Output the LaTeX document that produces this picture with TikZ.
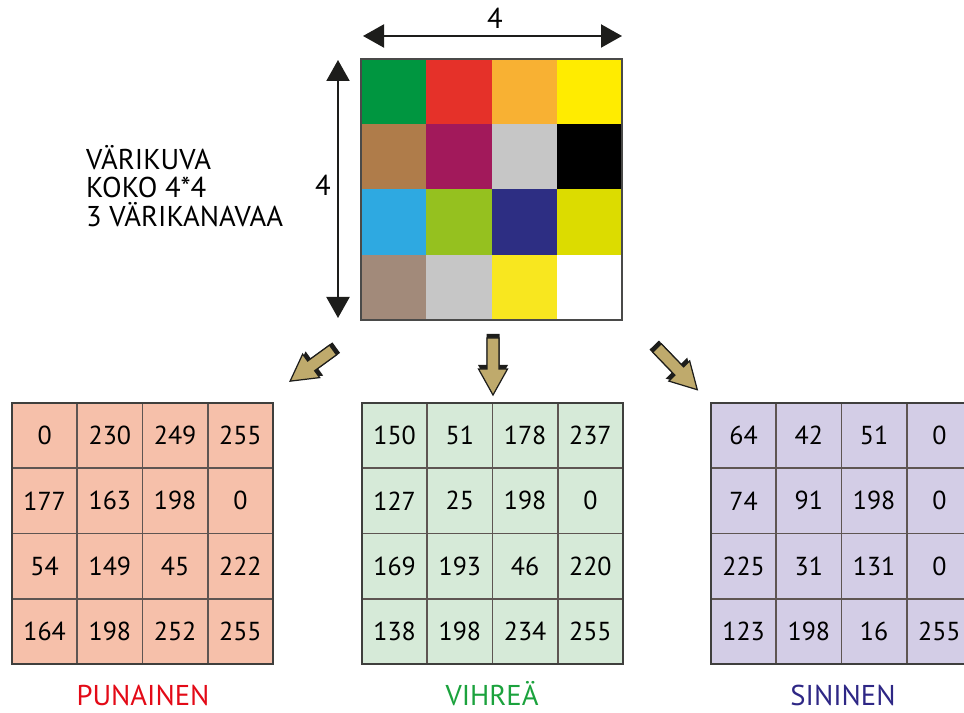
\documentclass[tikz,border=0pt]{standalone}
\usepackage{fontspec}
\setmainfont{PT Sans}
\usetikzlibrary{arrows.meta,positioning}
\definecolor{ink}{HTML}{1D1D1B}
\definecolor{gridline}{HTML}{5E5552}
\definecolor{khaki}{HTML}{BFAA6C}
\definecolor{redlabel}{HTML}{E30A17}
\definecolor{greenlabel}{HTML}{1BA23D}
\definecolor{bluelabel}{HTML}{2E2785}
\definecolor{redfill}{HTML}{F6C0AA}
\definecolor{greenfill}{HTML}{D6EAD8}
\definecolor{bluefill}{HTML}{D3CDE6}
% pixel colours, row by row
\definecolor{p0}{HTML}{009640}
\definecolor{p1}{HTML}{E53129}
\definecolor{p2}{HTML}{F8B133}
\definecolor{p3}{HTML}{FFEC00}
\definecolor{p4}{HTML}{AF7C4A}
\definecolor{p5}{HTML}{A2195B}
\definecolor{p6}{HTML}{C6C6C6}
\definecolor{p7}{HTML}{000000}
\definecolor{p8}{HTML}{2EA9E1}
\definecolor{p9}{HTML}{95C11F}
\definecolor{p10}{HTML}{2D2E83}
\definecolor{p11}{HTML}{DCDC00}
\definecolor{p12}{HTML}{A28A7A}
\definecolor{p13}{HTML}{C6C6C6}
\definecolor{p14}{HTML}{F8E71F}
\definecolor{p15}{HTML}{FFFFFF}

% fat arrow with a dark back edge: #1 tail, #2 angle, #3 length
\newcommand\fatarrow[3]{%
  \begin{scope}[shift={#1},rotate=#2]
    \fill[ink] (-0.08,0.13) -- ({#3-0.6},0.13) -- ({#3-0.6},0.30)
      -- ({#3-0.08},0) -- ({#3-0.6},-0.30) -- ({#3-0.6},-0.13)
      -- (-0.08,-0.13) -- cycle;
    \filldraw[fill=khaki,draw=ink,line width=0.7pt] (0,0.12) -- ({#3-0.52},0.12)
      -- ({#3-0.52},0.29) -- (#3,0) -- ({#3-0.52},-0.29)
      -- ({#3-0.52},-0.12) -- (0,-0.12) -- cycle;
  \end{scope}}

\begin{document}
\begin{tikzpicture}[
  x=1cm,y=1cm,line join=miter,
  >={Triangle[length=0.42cm,width=0.46cm]},
  pix/.style={minimum size=1.305cm,inner sep=0pt,outer sep=0pt},
  val/.style={minimum size=1.305cm,inner sep=0pt,outer sep=0pt,
    font=\fontsize{14.8}{17}\selectfont},
  cell/.style={draw=gridline,line width=1.1pt},
  frame/.style={draw=ink!85,line width=1.4pt},
  dim/.style={<->,draw=ink,line width=1.2pt},
  big/.style={font=\fontsize{16.3}{16.4}\selectfont,inner sep=1pt}
]
\useasboundingbox (0,0) rectangle (19.28,14.26);
\clip (0,0) rectangle (19.28,14.26);

% 4x4 colour image
\foreach \i in {0,...,15} {
  \pgfmathtruncatemacro\row{\i/4}
  \pgfmathtruncatemacro\col{mod(\i,4)}
  \node[pix,fill=p\i] (pix\i) at ({7.8725+1.305*\col},{12.4275-1.305*\row}) {};
}
\draw[draw=ink!80,line width=0.9pt] (pix0.north west) rectangle (pix15.south east);

% size arrows
\coordinate (wl) at (7.26,13.54);
\coordinate (wr) at (12.44,13.54);
\coordinate (ht) at (6.76,13.06);
\coordinate (hb) at (6.76,7.90);
\draw[dim] (wl) -- (wr);
\draw[dim] (ht) -- (hb);
\node[big] (wlabel) at (9.9,13.9) {4};
\node[big] (hlabel) at (6.46,10.56) {4};

\node[big,anchor=west,align=left] (info) at (1.68,10.54)
  {VÄRIKUVA\\KOKO 4*4\\3 VÄRIKANAVAA};

% one channel per table
\foreach \v [count=\i from 0] in {0,230,249,255,177,163,198,0,54,149,45,222,164,198,252,255} {
  \pgfmathtruncatemacro\row{\i/4}
  \pgfmathtruncatemacro\col{mod(\i,4)}
  \node[val,fill=redfill] (r\i) at ({0.8925+1.305*\col},{5.5475-1.305*\row}) {\v};
}
\foreach \v [count=\i from 0] in {150,51,178,237,127,25,198,0,169,193,46,220,138,198,234,255} {
  \pgfmathtruncatemacro\row{\i/4}
  \pgfmathtruncatemacro\col{mod(\i,4)}
  \node[val,fill=greenfill] (g\i) at ({7.8925+1.305*\col},{5.5475-1.305*\row}) {\v};
}
\foreach \v [count=\i from 0] in {64,42,51,0,74,91,198,0,225,31,131,0,123,198,16,255} {
  \pgfmathtruncatemacro\row{\i/4}
  \pgfmathtruncatemacro\col{mod(\i,4)}
  \node[val,fill=bluefill] (b\i) at ({14.8725+1.305*\col},{5.5475-1.305*\row}) {\v};
}
% cell lines go on top of all fills
\foreach \t in {r,g,b} {
  \foreach \i in {0,...,15}
    \draw[cell] (\t\i.north west) rectangle (\t\i.south east);
  \draw[frame] (\t0.north west) rectangle (\t15.south east);
}

\node[big,text=redlabel,anchor=base] (rname) at (2.86,0.14) {PUNAINEN};
\node[big,text=greenlabel,anchor=base] (gname) at (9.84,0.14) {VIHREÄ};
\node[big,text=bluelabel,anchor=base] (bname) at (16.86,0.14) {SININEN};

% split arrows
\fatarrow{(6.66,7.26)}{216}{1.06}
\fatarrow{(9.86,7.50)}{-90}{1.14}
\fatarrow{(13.14,7.30)}{-46}{1.16}

\end{tikzpicture}
\end{document}
